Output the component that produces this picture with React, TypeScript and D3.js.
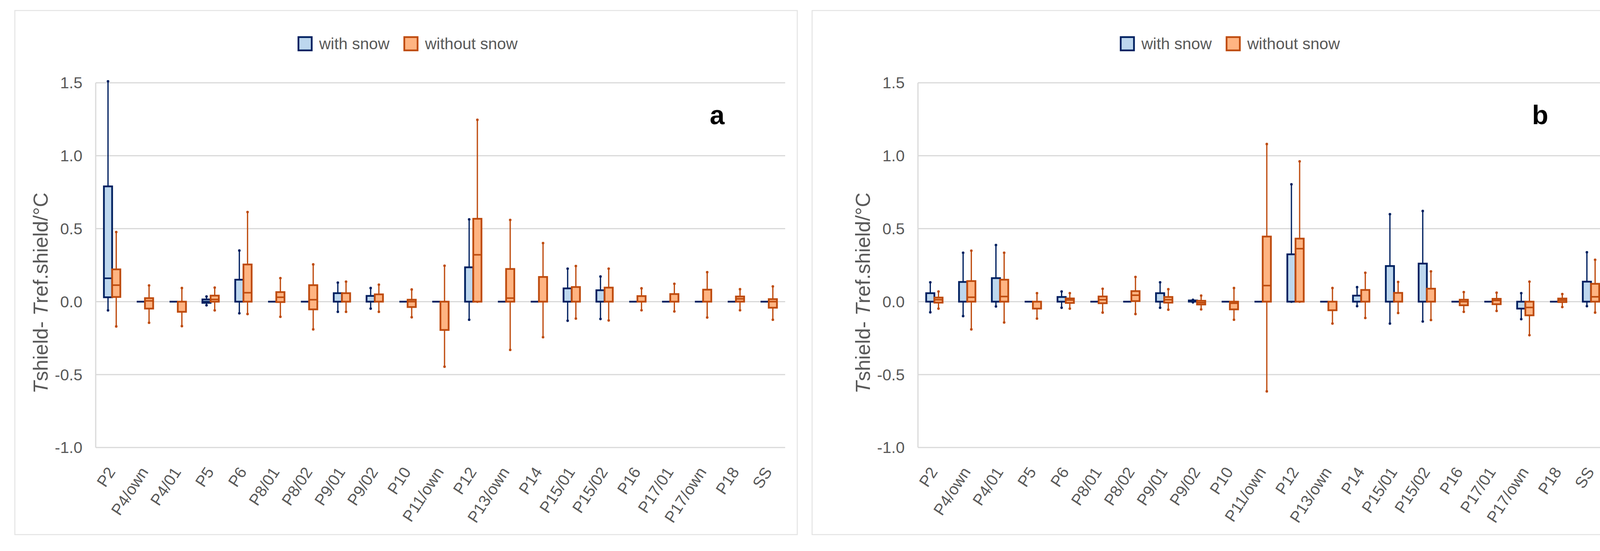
import React from 'react';
import { scaleBand, scaleLinear } from 'd3';

// categories along the x axis (same for both panels)
const sites = [
  'P2', 'P4/own', 'P4/01', 'P5', 'P6', 'P8/01', 'P8/02', 'P9/01', 'P9/02', 'P10',
  'P11/own', 'P12', 'P13/own', 'P14', 'P15/01', 'P15/02', 'P16', 'P17/01',
  'P17/own', 'P18', 'SS',
];

const yTicks = [-1.0, -0.5, 0.0, 0.5, 1.0, 1.5];
const seriesNames = ['with snow', 'without snow'];

// [whisker low, q1, median, q3, whisker high]
type Box = [number, number, number, number, number];
const Z: Box = [0, 0, 0, 0, 0];

const aWithSnow: Box[] = [
  [-0.06, 0.03, 0.16, 0.79, 1.51], Z, Z, [-0.025, -0.008, 0, 0.015, 0.035],
  [-0.08, 0, 0, 0.15, 0.35], Z, Z, [-0.07, 0, 0, 0.058, 0.13],
  [-0.048, 0, 0, 0.039, 0.093], Z, Z, [-0.124, 0, 0, 0.235, 0.564], Z, Z,
  [-0.131, 0, 0, 0.091, 0.226], [-0.119, 0, 0, 0.078, 0.172], Z, Z, Z, Z, Z,
];

const aWithoutSnow: Box[] = [
  [-0.17, 0.032, 0.113, 0.221, 0.477], [-0.145, -0.048, 0.005, 0.024, 0.111],
  [-0.168, -0.07, 0, 0, 0.093], [-0.06, 0, 0.015, 0.041, 0.096],
  [-0.085, 0, 0.061, 0.255, 0.614], [-0.104, -0.003, 0.03, 0.065, 0.161],
  [-0.19, -0.053, 0.013, 0.113, 0.255], [-0.07, 0, 0, 0.058, 0.137],
  [-0.07, 0, 0, 0.05, 0.116], [-0.107, -0.037, 0, 0.013, 0.083],
  [-0.446, -0.194, 0, 0, 0.246], [0, 0, 0.321, 0.568, 1.246],
  [-0.331, 0, 0.024, 0.224, 0.56], [-0.244, 0, 0, 0.169, 0.401],
  [-0.116, 0, 0, 0.1, 0.244], [-0.129, 0, 0, 0.096, 0.226],
  [-0.059, 0, 0, 0.038, 0.091], [-0.067, 0, 0, 0.052, 0.122],
  [-0.109, 0, 0, 0.082, 0.202], [-0.059, 0, 0.019, 0.035, 0.085],
  [-0.124, -0.042, 0, 0.017, 0.104],
];

const bWithSnow: Box[] = [
  [-0.073, 0, 0, 0.058, 0.132], [-0.099, 0, 0, 0.135, 0.335],
  [-0.033, 0, 0, 0.161, 0.388], Z, [-0.042, 0, 0, 0.032, 0.069], Z, Z,
  [-0.042, 0, 0, 0.058, 0.132], [-0.005, 0, 0, 0.008, 0.012], Z, Z,
  [0, 0, 0, 0.324, 0.804], Z, [-0.031, 0, 0, 0.041, 0.099],
  [-0.15, 0, 0, 0.244, 0.599], [-0.136, 0, 0, 0.261, 0.621], Z, Z,
  [-0.12, -0.048, 0, 0, 0.058], Z, [-0.031, 0, 0, 0.137, 0.338],
];

const bWithoutSnow: Box[] = [
  [-0.048, -0.007, 0.013, 0.028, 0.069], [-0.19, 0, 0.03, 0.141, 0.349],
  [-0.143, 0, 0.035, 0.15, 0.335], [-0.116, -0.048, 0, 0, 0.058],
  [-0.048, -0.009, 0.011, 0.022, 0.058], [-0.075, -0.011, 0.013, 0.035, 0.088],
  [-0.085, 0.004, 0.044, 0.072, 0.169], [-0.055, -0.007, 0.013, 0.032, 0.085],
  [-0.053, -0.02, -0.007, 0.006, 0.041], [-0.124, -0.053, -0.011, 0, 0.093],
  [-0.615, 0, 0.11, 0.446, 1.08], [0, 0, 0.363, 0.432, 0.961],
  [-0.15, -0.059, 0, 0, 0.093], [-0.112, 0, 0, 0.08, 0.198],
  [-0.078, 0, 0, 0.06, 0.135], [-0.126, 0, 0, 0.089, 0.207],
  [-0.07, -0.025, 0, 0.013, 0.065], [-0.064, -0.018, 0.008, 0.019, 0.061],
  [-0.23, -0.094, -0.04, 0, 0.137], [-0.037, -0.003, 0.01, 0.021, 0.052],
  [-0.075, 0, 0.033, 0.122, 0.287],
];

const W = 4173;
const H = 1411;
const FONT = '"Liberation Sans", Arial, sans-serif';
const TEXT = '#595959';
const GRID = '#d9d9d9';
const colors = [
  { fill: '#bdd7ee', stroke: '#002060' },
  { fill: '#ffb482', stroke: '#be4b0e' },
];

interface PanelProps {
  left: number;
  frame: [number, number];
  letter: string;
  series: Box[][];
}

const Panel: React.FC<PanelProps> = ({ left, frame, letter, series }) => {
  const plotL = left + 207;
  const plotR = left + 1972;
  const top = 212;
  const bottom = 1146;

  const x = scaleBand<string>().domain(sites).range([plotL, plotR]).paddingInner(0.5).paddingOuter(0.25);
  const sub = scaleBand<number>().domain([0, 1]).range([0, x.bandwidth()]);
  const y = scaleLinear().domain([-1, 1.5]).range([bottom, top]);

  return (
    <g>
      <rect x={frame[0]} y={27} width={frame[1] - frame[0]} height={1342} fill="#fff" stroke="#e3e3e3" strokeWidth={2.5} />

      {/* grid */}
      {yTicks.map(t => (
        <g key={t}>
          <line x1={plotL} x2={plotR} y1={y(t)} y2={y(t)} stroke={GRID} strokeWidth={3} />
          <text x={plotL - 34} y={y(t)} dy="0.35em" textAnchor="end" fontSize={41} fill={TEXT}>
            {t.toFixed(1)}
          </text>
        </g>
      ))}
      <line x1={plotL} x2={plotL} y1={y(1.5)} y2={y(-1)} stroke={GRID} strokeWidth={3} />

      {/* y title */}
      <text transform={`translate(${left + 84},${y(0) - 22}) rotate(-90)`} textAnchor="middle" fontSize={52} fill={TEXT}>
        <tspan fontStyle="italic">T</tspan>shield- <tspan fontStyle="italic">T</tspan>ref.shield/°C
      </text>

      {/* boxes */}
      {series.map((boxes, si) => (
        <g key={si}>
          {boxes.map((b, i) => {
            const x0 = x(sites[i])! + sub(si)!;
            const w = sub.bandwidth();
            const cx = x0 + w / 2;
            const [lo, q1, med, q3, hi] = b;
            const c = colors[si];
            return (
              <g key={i}>
                {hi > lo && (
                  <>
                    <line x1={cx} x2={cx} y1={y(lo)} y2={y(hi)} stroke={c.stroke} strokeWidth={3.2} />
                    <circle cx={cx} cy={y(lo)} r={3.3} fill={c.stroke} />
                    <circle cx={cx} cy={y(hi)} r={3.3} fill={c.stroke} />
                  </>
                )}
                <path
                  d={`M${x0},${y(q3)}H${x0 + w}V${y(q1)}H${x0}Z`}
                  fill={c.fill}
                  stroke={c.stroke}
                  strokeWidth={4.5}
                />
                {med > q1 && med < q3 && (
                  <line x1={x0} x2={x0 + w} y1={y(med)} y2={y(med)} stroke={c.stroke} strokeWidth={4} />
                )}
              </g>
            );
          })}
        </g>
      ))}

      {/* x labels */}
      {sites.map(s => (
        <text
          key={s}
          transform={`translate(${x(s)! + x.bandwidth() / 2 + 10},${bottom + 62}) rotate(-57)`}
          textAnchor="end"
          fontSize={41}
          fill={TEXT}
        >
          {s}
        </text>
      ))}

      {/* legend */}
      {seriesNames.map((n, i) => {
        const lx = left + 726 + i * 271;
        return (
          <g key={n}>
            <rect x={lx} y={95} width={34} height={34} fill={colors[i].fill} stroke={colors[i].stroke} strokeWidth={4.5} />
            <text x={lx + 53} y={112} dy="0.35em" fontSize={41} fill={TEXT}>{n}</text>
          </g>
        );
      })}

      <text x={left + 1779} y={318} fontSize={68} fontWeight="bold" fill="#000">{letter}</text>
    </g>
  );
};

export default function App() {
  return (
    <div style={{ position: 'absolute', left: 0, top: 0 }}>
      <svg width={W} height={H} viewBox={`0 0 ${W} ${H}`} style={{ display: 'block', fontFamily: FONT }}>
        <rect width={W} height={H} fill="#fff" />
        <Panel left={38} frame={[38, 2041]} letter="a" series={[aWithSnow, aWithoutSnow]} />
        <Panel left={2143} frame={[2079, 4146]} letter="b" series={[bWithSnow, bWithoutSnow]} />
      </svg>
    </div>
  );
}
